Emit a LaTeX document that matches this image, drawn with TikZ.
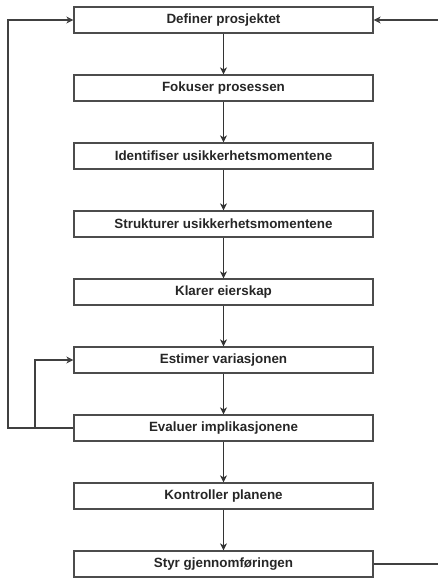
\documentclass[tikz,border=0pt]{standalone}
\usepackage{fontspec}
\setmainfont{Liberation Sans}
\usetikzlibrary{arrows.meta}
\begin{document}
\begin{tikzpicture}[x=1pt,y=-1pt,
  stepbox/.style={draw=black!70, line width=1.2pt, minimum width=299pt, minimum height=26pt,
    inner sep=0pt, font=\fontsize{13.4}{15}\selectfont\bfseries, text=black!85},
  flow/.style={draw=black!80, line width=1.8pt, -{Stealth[length=7pt,width=7pt,inset=2pt]}},
  loop/.style={draw=black!75, line width=1.3pt, -{Stealth[length=7pt,width=7pt,inset=2pt]}},
  plain/.style={draw=black!75, line width=1.3pt}]
\useasboundingbox (0,0) rectangle (437,578);
\node[stepbox] (n1) at (223.5,20) {Definer prosjektet};
\node[stepbox] (n2) at (223.5,88) {Fokuser prosessen};
\node[stepbox] (n3) at (223.5,156) {Identifiser usikkerhetsmomentene};
\node[stepbox] (n4) at (223.5,224) {Strukturer usikkerhetsmomentene};
\node[stepbox] (n5) at (223.5,292) {Klarer eierskap};
\node[stepbox] (n6) at (223.5,360) {Estimer variasjonen};
\node[stepbox] (n7) at (223.5,428) {Evaluer implikasjonene};
\node[stepbox] (n8) at (223.5,496) {Kontroller planene};
\node[stepbox] (n9) at (223.5,564) {Styr gjennomføringen};
\foreach \a/\b in {n1/n2,n2/n3,n3/n4,n4/n5,n5/n6,n6/n7,n7/n8,n8/n9}
  \draw[flow] (\a) -- (\b);
\coordinate (lA) at (8,428);
\coordinate (lB) at (8,20);
\coordinate (iA) at (35,428);
\coordinate (iB) at (35,360);
\coordinate (rA) at (442,564);
\coordinate (rB) at (442,20);
\draw[loop] (n7.west) -- (lA) -- (lB) -- (n1.west);
\draw[loop] (iA) -- (iB) -- (n6.west);
\draw[loop] (n9.east) -- (rA) -- (rB) -- (n1.east);
\end{tikzpicture}
\end{document}
